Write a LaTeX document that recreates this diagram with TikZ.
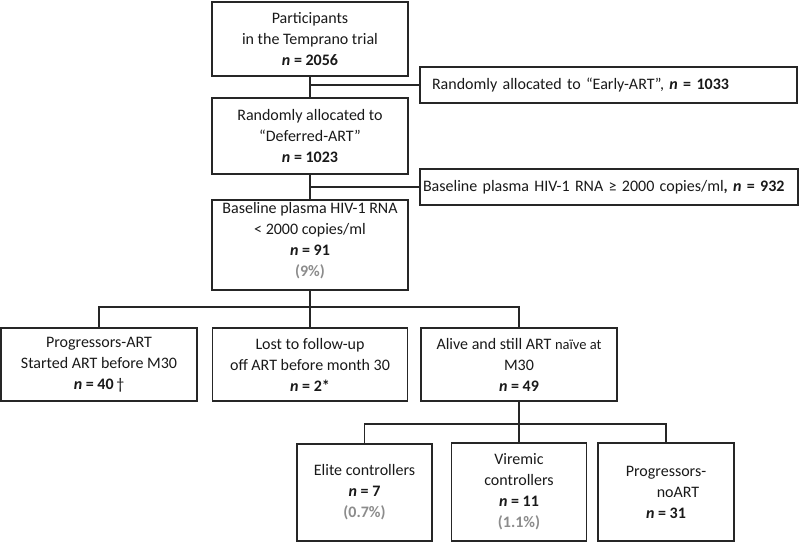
\documentclass[tikz,border=0pt]{standalone}
\usepackage{fontspec}
\setmainfont{Carlito}
\begin{document}
\begin{tikzpicture}[x=1pt,y=-1pt,line width=1.8pt,draw=black!85,
  box/.style={draw=black!85,line width=1.8pt,inner sep=0pt,align=center,text=black!90,font=\fontsize{16}{21}\selectfont},
  sidebox/.style={box,align=left,minimum height=36}]
\def\nval#1{\textbf{\textit{n} = #1}}
\def\pcval#1{{\color{black!45}\textbf{(#1)}}}
\useasboundingbox(0,0)rectangle(800,544);
\node[box,minimum width=196,minimum height=74](top)at(310,39){Participants\\in the Temprano trial\\\nval{2056}};
\node[sidebox,text width=353,inner xsep=12](early)at(608.5,85){Randomly allocated to “Early-ART”, \nval{1033}};
\node[box,minimum width=196,minimum height=76](deferred)at(310,136){Randomly allocated to\\“Deferred-ART”\\\nval{1023}};
\node[sidebox,text width=372,inner xsep=3](ge)at(609,187){Baseline plasma HIV-1 RNA ≥ 2000 copies/ml\textbf{,} \nval{932}};
\node[box,minimum width=196,minimum height=90](lt)at(310,245){Baseline plasma HIV-1 RNA\\< 2000 copies/ml\\\nval{91}\\\pcval{9\%}\\[-10pt]\mbox{}};
\node[box,minimum width=196,minimum height=73](prog)at(99,364.5){Progressors-ART\\Started ART before M30\\\nval{40}\,†};
\node[box,minimum width=195,minimum height=73](lost)at(310,364.5){Lost to follow-up\\off ART before month 30\\\nval{2*}};
\node[box,minimum width=196,minimum height=73](alive)at(519,364.5){Alive and still ART {\fontsize{14.5}{21}\selectfont naïve at}\\M30\\\nval{49}};
\node[box,minimum width=135,minimum height=97](elite)at(364.5,492.5){Elite controllers\\\nval{7}\\\pcval{0.7\%}};
\node[box,minimum width=135,minimum height=98](viremic)at(519,492){Viremic\\controllers\\\nval{11}\\\pcval{1.1\%}};
\node[box,minimum width=136,minimum height=98](noart)at(666,492){Progressors-\\\hspace*{24pt}noART\\\nval{31}};
\coordinate(s1)at(310,307);
\coordinate(s2)at(519,424);
\coordinate(e1)at(310,85);
\coordinate(g1)at(310,187);
\draw(top)--(deferred);
\draw(e1)--(early.west);
\draw(deferred)--(lt);
\draw(g1)--(ge.west);
\draw(lt)--(lost);
\draw(prog.north)|-(s1)-|(alive.north);
\draw(alive)--(viremic);
\draw(elite.north)|-(s2)-|(noart.north);
\end{tikzpicture}
\end{document}
